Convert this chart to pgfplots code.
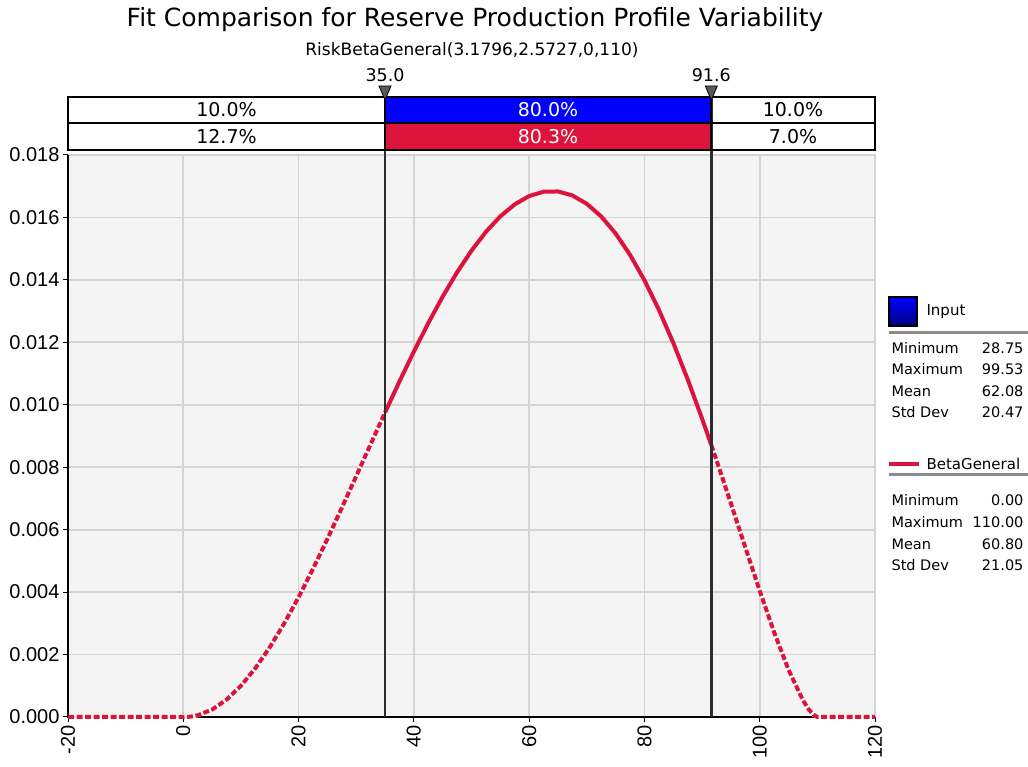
\documentclass[border=0pt]{standalone}
\usepackage{pgfplots}
\pgfplotsset{compat=1.18}
\usepackage{fontspec}
\setmainfont{DejaVu Sans}
\newfontfamily\lib{Liberation Sans}
\definecolor{crim}{RGB}{220,20,60}
\definecolor{bgc}{RGB}{244,244,244}
\definecolor{gridc}{RGB}{212,212,212}
\definecolor{vline}{RGB}{45,45,45}

\pgfplotstableread{
x y
-20 0
0 0
1 0.0000076
1.5 0.0000182
2.5 0.0000546
5 0.000238
7.5 0.000555
10 0.000999
12.5 0.001562
15 0.002231
17.5 0.002993
20 0.003836
22.5 0.004744
25 0.005702
27.5 0.006697
30 0.007713
32.5 0.008736
35 0.009751
}\lefttab
\pgfplotstableread{
x y
35 0.009751
37.5 0.010745
40 0.011704
42.5 0.012615
45 0.013465
47.5 0.014243
50 0.014937
52.5 0.015538
55 0.016035
57.5 0.016418
60 0.016685
62.5 0.016824
65 0.016832
67.5 0.016704
70 0.016437
72.5 0.016031
75 0.015486
77.5 0.014803
80 0.013988
82.5 0.013045
85 0.011984
87.5 0.010816
90 0.009556
91.6 0.008710
}\midtab
\pgfplotstableread{
x y
91.6 0.008710
92.5 0.008223
95 0.006839
97.5 0.005433
100 0.004042
102.5 0.002713
105 0.001511
107.5 0.000535
108.5 0.000244
109.3 0.000075
110 0
120 0
}\righttab

\begin{document}
\begin{tikzpicture}[x=1pt,y=1pt]
\useasboundingbox (0,0) rectangle (1028,767);
\begin{axis}[
  at={(68pt,50pt)}, anchor=south west,
  width=807pt, height=562pt, scale only axis,
  xmin=-20, xmax=120, ymin=0, ymax=0.018,
  xtick={-20,0,...,120},
  ytick={0,0.002,...,0.018},
  scaled y ticks=false,
  /pgf/number format/assume math mode=true,
  yticklabel style={/pgf/number format/.cd, fixed, fixed zerofill, precision=3},
  tick label style={font=\lib\fontsize{20}{23}\selectfont, text=black},
  xticklabel style={rotate=90, anchor=east},
  axis background/.style={fill=bgc},
  axis line style={draw=none},
  grid=major,
  major grid style={draw=gridc, line width=1.8pt},
  tick align=outside,
  xtick pos=bottom, ytick pos=left,
  major tick length=5pt,
  tick style={black, line width=1pt},
  clip=false,
]
% frame
\draw[gridc, line width=1.8pt] (rel axis cs:0,1) -- (rel axis cs:1,1) -- (rel axis cs:1,0);
\draw[black, line width=2.2pt] (rel axis cs:0,1) -- (rel axis cs:0,0) -- (rel axis cs:1,0);
% curve
\addplot[white, line width=4pt] table {\lefttab};
\addplot[crim, line width=4pt, dash pattern=on 6pt off 2.5pt] table {\lefttab};
\addplot[crim, line width=4pt] table {\midtab};
\addplot[white, line width=4pt] table {\righttab};
\addplot[crim, line width=4pt, dash pattern=on 6pt off 2.5pt] table {\righttab};
\end{axis}

% vertical markers
\draw[vline, line width=2.4pt] (385,50) -- (385,670);
\draw[vline, line width=2.4pt] (711.3,50) -- (711.3,670);

% bands
\fill[blue] (385,644) rectangle (711.3,670);
\fill[crim] (385,617) rectangle (711.3,644);
\draw[black, line width=2pt] (68,617) rectangle (875,670);
\draw[black, line width=2pt] (68,644) -- (875,644);
\draw[black, line width=2pt] (385,617) -- (385,670);
\draw[black, line width=2pt] (711.3,617) -- (711.3,670);
\begin{scope}[every node/.style={font=\fontsize{19}{22}\selectfont}]
\node at (226.5,657) {10.0\%};
\node[white] at (548,657) {80.0\%};
\node at (793,657) {10.0\%};
\node at (226.5,630.5) {12.7\%};
\node[white] at (548,630.5) {80.3\%};
\node at (793,630.5) {7.0\%};
\end{scope}
\begin{scope}[every node/.style={font=\fontsize{17.5}{20}\selectfont}]
\node at (385,692) {35.0};
\node at (711.3,692) {91.6};
\end{scope}
\filldraw[fill=gray!70!black, draw=black, line width=0.8pt] (379,681) -- (391,681) -- (385,667) -- cycle;
\filldraw[fill=gray!70!black, draw=black, line width=0.8pt] (705.3,681) -- (717.3,681) -- (711.3,667) -- cycle;

% titles
\node at (475,747) {\fontsize{25}{29}\selectfont Fit Comparison for Reserve Production Profile Variability};
\node at (472,717) {\fontsize{17}{20}\selectfont RiskBetaGeneral(3.1796,2.5727,0,110)};

% legend
\shade[top color=blue, bottom color=blue!50!black, draw=black, line width=1.2pt] (889,441) rectangle (917,470);
\node[anchor=west, font=\fontsize{15}{18}\selectfont] at (923,455.5) {Input};
\draw[gray!90, line width=3pt] (889,434) -- (1028,434);
\begin{scope}[every node/.style={font=\fontsize{14.5}{17}\selectfont}]
\node[anchor=west] at (888,419) {Minimum};
\node[anchor=west] at (888,398) {Maximum};
\node[anchor=west] at (888,376) {Mean};
\node[anchor=west] at (888,355) {Std Dev};
\node[anchor=east] at (1027,419) {28.75};
\node[anchor=east] at (1027,398) {99.53};
\node[anchor=east] at (1027,376) {62.08};
\node[anchor=east] at (1027,355) {20.47};
\end{scope}
\draw[crim, line width=4pt] (889,303) -- (919,303);
\node[anchor=west, font=\fontsize{15}{18}\selectfont] at (923,303) {BetaGeneral};
\draw[gray!90, line width=3pt] (889,292) -- (1028,292);
\begin{scope}[every node/.style={font=\fontsize{14.5}{17}\selectfont}]
\node[anchor=west] at (888,267) {Minimum};
\node[anchor=west] at (888,245) {Maximum};
\node[anchor=west] at (888,223) {Mean};
\node[anchor=west] at (888,202) {Std Dev};
\node[anchor=east] at (1027,267) {0.00};
\node[anchor=east] at (1027,245) {110.00};
\node[anchor=east] at (1027,223) {60.80};
\node[anchor=east] at (1027,202) {21.05};
\end{scope}
\end{tikzpicture}
\end{document}
